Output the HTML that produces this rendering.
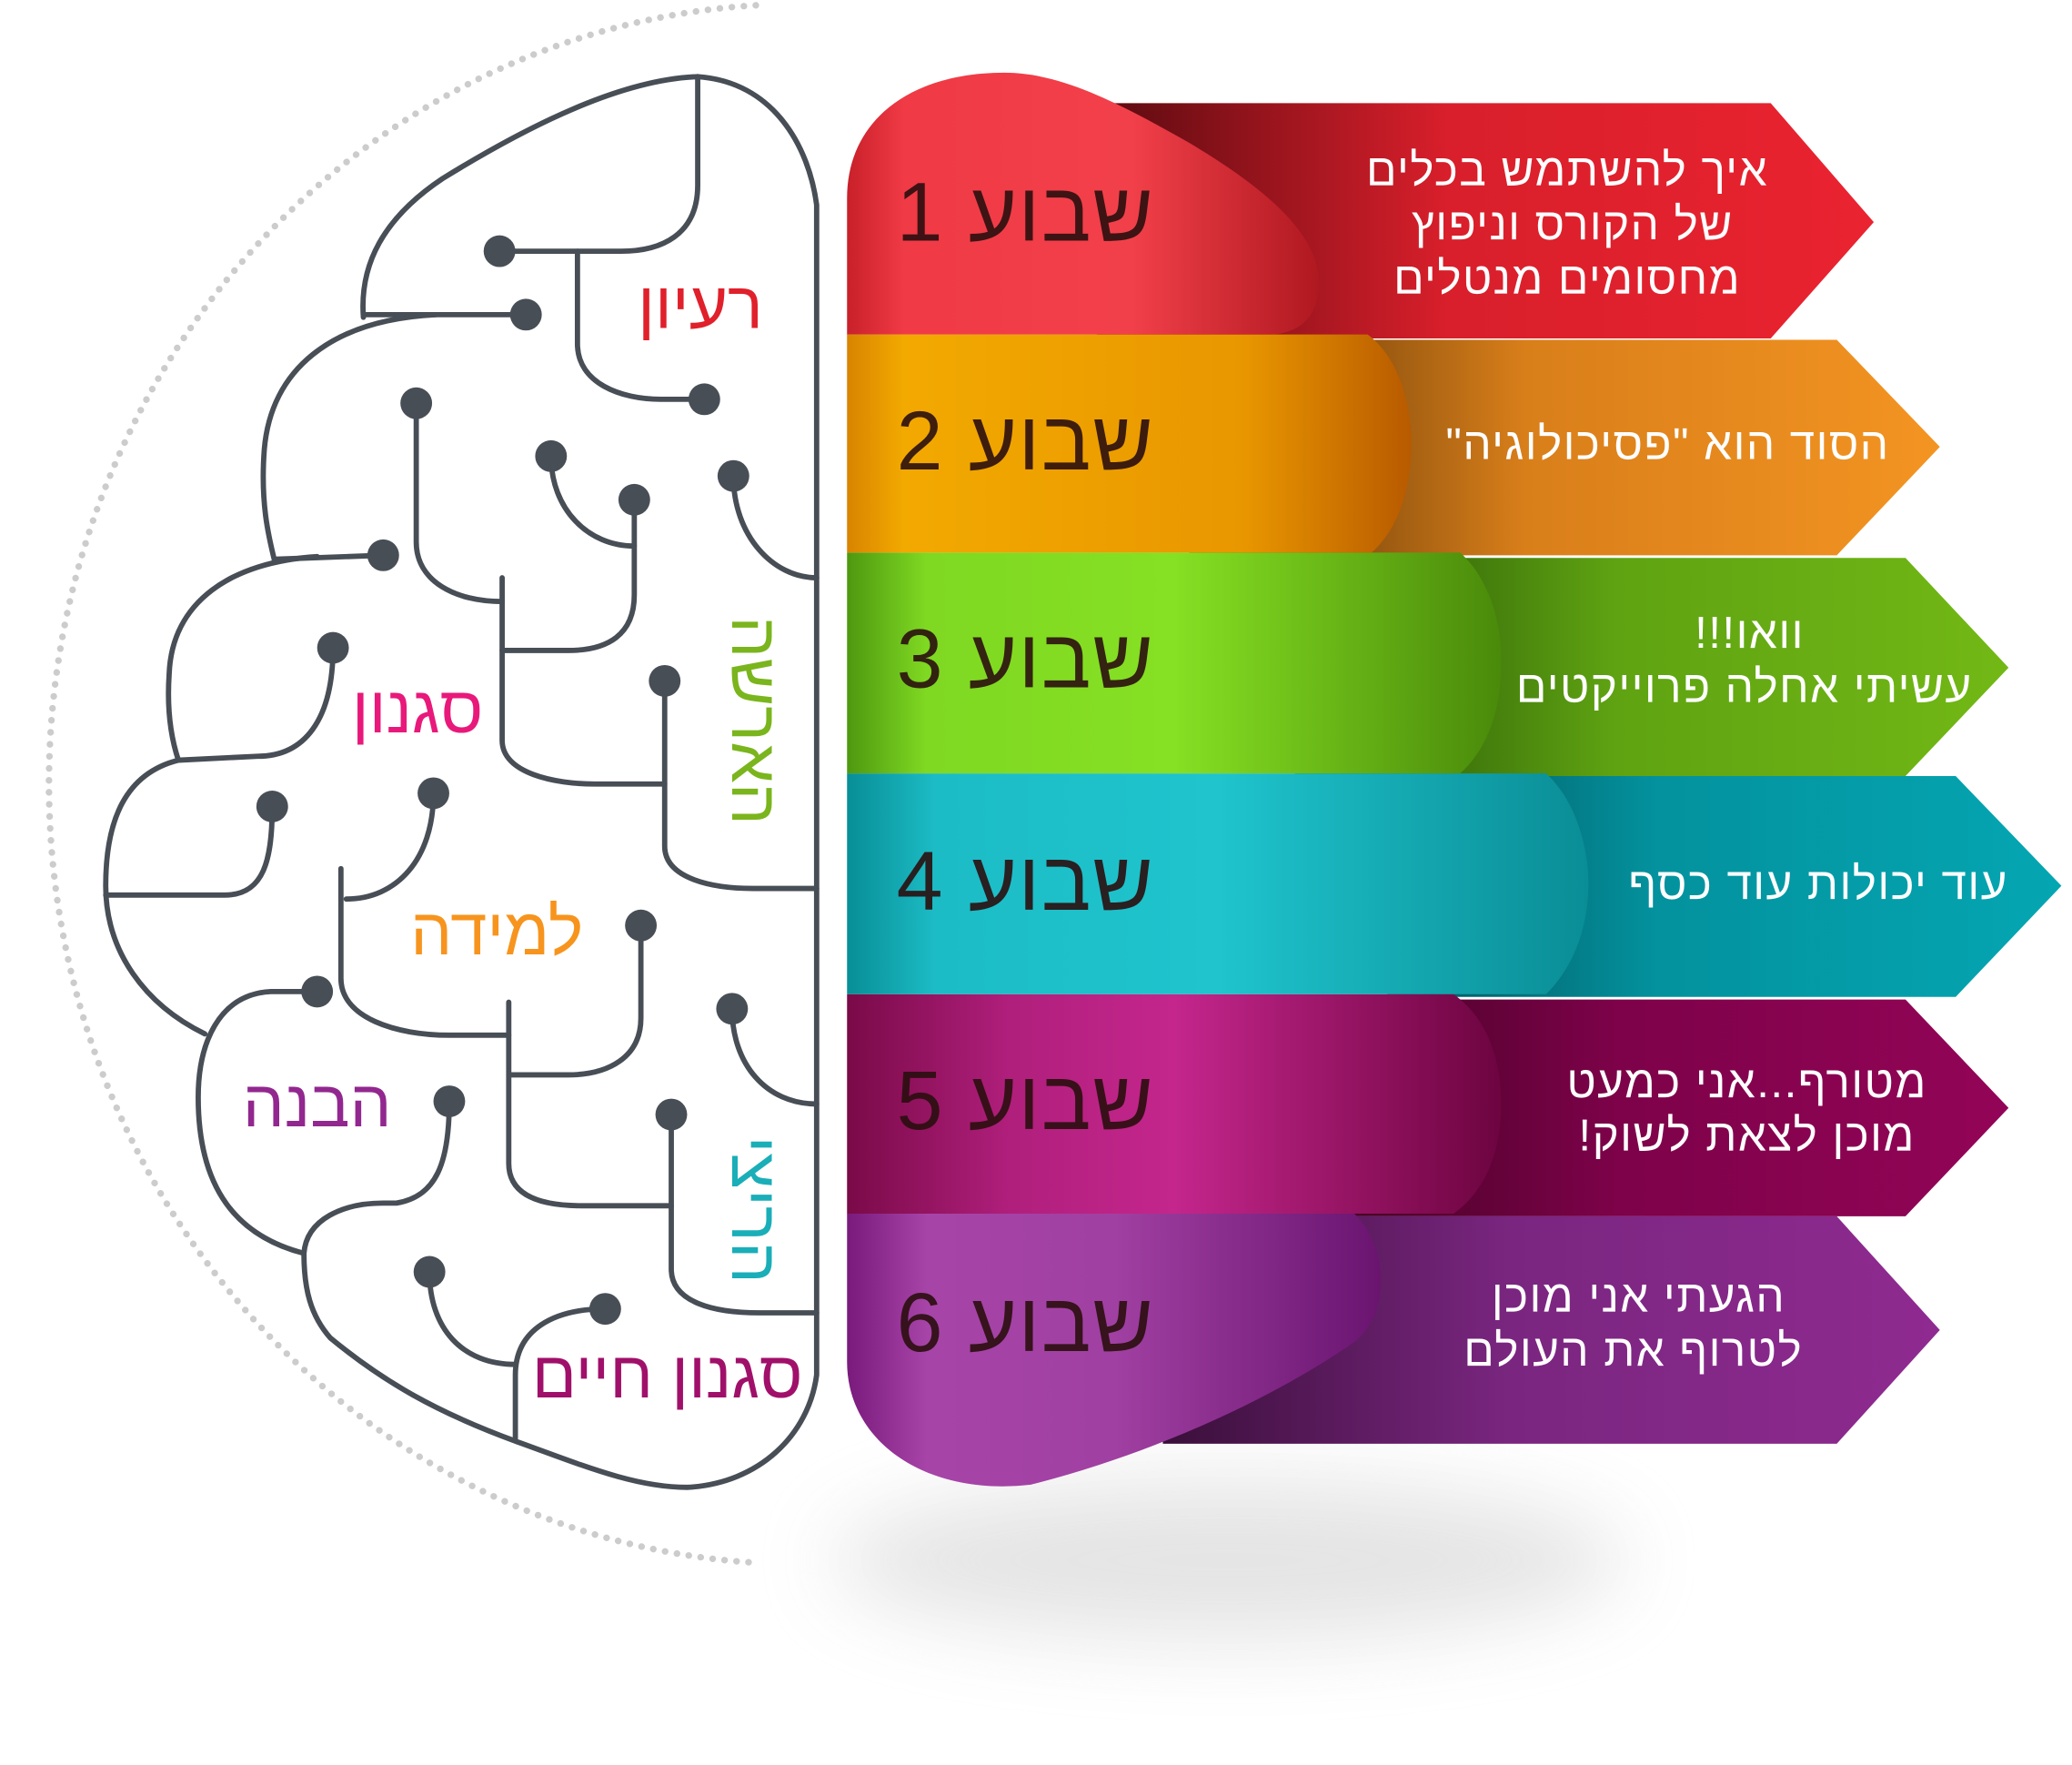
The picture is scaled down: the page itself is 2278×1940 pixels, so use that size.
<!DOCTYPE html>
<html><head><meta charset="utf-8">
<style>
html,body{margin:0;padding:0;background:#fff;}
svg{display:block;}
text{font-family:"Liberation Sans","Noto Sans CJK SC","DejaVu Sans",sans-serif;}
</style></head>
<body>
<svg width="2278" height="1940" viewBox="0 0 1568 1335" preserveAspectRatio="none" xmlns="http://www.w3.org/2000/svg">
<defs>
<filter id="blur" x="-50%" y="-50%" width="200%" height="200%"><feGaussianBlur stdDeviation="30"/></filter>
<linearGradient id="a1" x1="0" x2="1"><stop offset="0" stop-color="#5a0a10"/><stop offset="0.45" stop-color="#d81f2b"/><stop offset="1" stop-color="#ea2330"/></linearGradient>
<linearGradient id="a2" x1="0" x2="1"><stop offset="0" stop-color="#4a2a05"/><stop offset="0.45" stop-color="#d97f1a"/><stop offset="1" stop-color="#f39422"/></linearGradient>
<linearGradient id="a3" x1="0" x2="1"><stop offset="0" stop-color="#1f4a05"/><stop offset="0.45" stop-color="#5fa312"/><stop offset="1" stop-color="#72b815"/></linearGradient>
<linearGradient id="a4" x1="0" x2="1"><stop offset="0" stop-color="#04525a"/><stop offset="0.4" stop-color="#03929e"/><stop offset="1" stop-color="#04a6b2"/></linearGradient>
<linearGradient id="a5" x1="0" x2="1"><stop offset="0" stop-color="#3a0120"/><stop offset="0.45" stop-color="#7d0249"/><stop offset="1" stop-color="#930457"/></linearGradient>
<linearGradient id="a6" x1="0" x2="1"><stop offset="0" stop-color="#3a0f3a"/><stop offset="0.45" stop-color="#7a2680"/><stop offset="1" stop-color="#8f2a90"/></linearGradient>
<linearGradient id="b1" x1="0" x2="1"><stop offset="0" stop-color="#c8202a"/><stop offset="0.12" stop-color="#f03a45"/><stop offset="0.6" stop-color="#f2404a"/><stop offset="1" stop-color="#b01820"/></linearGradient>
<linearGradient id="b2" x1="0" x2="1"><stop offset="0" stop-color="#d88400"/><stop offset="0.1" stop-color="#f2a900"/><stop offset="0.7" stop-color="#e99700"/><stop offset="1" stop-color="#b85a00"/></linearGradient>
<linearGradient id="b3" x1="0" x2="1"><stop offset="0" stop-color="#4e9810"/><stop offset="0.12" stop-color="#7fd822"/><stop offset="0.5" stop-color="#86e023"/><stop offset="1" stop-color="#4a8a0a"/></linearGradient>
<linearGradient id="b4" x1="0" x2="1"><stop offset="0" stop-color="#088e96"/><stop offset="0.12" stop-color="#1cbcc6"/><stop offset="0.5" stop-color="#1fc4cd"/><stop offset="1" stop-color="#0a8d96"/></linearGradient>
<linearGradient id="b5" x1="0" x2="1"><stop offset="0" stop-color="#7a0a48"/><stop offset="0.25" stop-color="#b01f7c"/><stop offset="0.5" stop-color="#c4268c"/><stop offset="1" stop-color="#6d0440"/></linearGradient>
<linearGradient id="b6" x1="0" x2="1"><stop offset="0" stop-color="#7a1a7c"/><stop offset="0.15" stop-color="#a744a8"/><stop offset="0.5" stop-color="#a040a2"/><stop offset="1" stop-color="#6a1470"/></linearGradient>
</defs>

<path d="M572,4 A568,590 0 0 0 572,1182" fill="none" stroke="#cccccc" stroke-width="5" stroke-dasharray="0.1 9" stroke-linecap="round"/>

<ellipse cx="930" cy="1180" rx="300" ry="60" fill="#c4c4c4" opacity="0.45" filter="url(#blur)"/>

<polygon points="830,78 1340,78 1418,168 1340,256 830,256" fill="url(#a1)"/>
<polygon points="900,257 1390,257 1468,338 1390,420 900,420" fill="url(#a2)"/>
<polygon points="980,422 1442,422 1520,505 1442,587 980,587" fill="url(#a3)"/>
<polygon points="1050,587 1480,587 1560,670 1480,754 1050,754" fill="url(#a4)"/>
<polygon points="980,756 1442,756 1520,838 1442,920 980,920" fill="url(#a5)"/>
<polygon points="880,920 1390,920 1468,1006 1390,1092 880,1092" fill="url(#a6)"/>

<path d="M641,918 L1025,918 C1048,940 1055,990 1025,1015 C960,1060 870,1100 780,1123 C700,1132 641,1090 641,1030 Z" fill="url(#b6)"/>
<path d="M641,752 L1100,752 C1125,770 1136,800 1136,835 C1136,870 1125,900 1100,918 L641,918 Z" fill="url(#b5)"/>
<path d="M641,585 L1170,585 C1192,605 1202,640 1202,668 C1202,700 1192,730 1170,752 L641,752 Z" fill="url(#b4)"/>
<path d="M641,418 L1105,418 C1127,438 1136,470 1136,500 C1136,535 1127,565 1105,585 L641,585 Z" fill="url(#b3)"/>
<path d="M641,253 L1035,253 C1058,270 1068,305 1068,335 C1068,370 1058,400 1038,418 L641,418 Z" fill="url(#b2)"/>
<path d="M641,253 L641,150 C641,90 690,55 760,55 C805,55 850,80 900,108 C950,138 995,172 998,210 C1000,237 985,253 960,253 Z" fill="url(#b1)"/>

<g font-size="63" fill="#2a0e0e" fill-opacity="0.9" text-anchor="middle" direction="rtl" letter-spacing="1">
<text x="776" y="182">שבוע 1</text>
<text x="776" y="355">שבוע 2</text>
<text x="776" y="520">שבוע 3</text>
<text x="776" y="688">שבוע 4</text>
<text x="776" y="854">שבוע 5</text>
<text x="776" y="1022">שבוע 6</text>
</g>

<g font-size="34" fill="#ffffff" text-anchor="middle" direction="rtl" letter-spacing="1">
<text x="1186" y="140">איך להשתמש בכלים</text>
<text x="1190" y="181">של הקורס וניפוץ</text>
<text x="1186" y="222">מחסומים מנטלים</text>
<text x="1262" y="347">הסוד הוא "פסיכולוגיה"</text>
<text x="1324" y="490">וואו!!!</text>
<text x="1320" y="531">עשיתי אחלה פרוייקטים</text>
<text x="1376" y="680">עוד יכולות עוד כסף</text>
<text x="1322" y="830">מטורף...אני  כמעט</text>
<text x="1322" y="870">מוכן לצאת לשוק!</text>
<text x="1240" y="992">הגעתי אני מוכן</text>
<text x="1236" y="1033">לטרוף את העולם</text>
</g>

<g fill="none" stroke="#484e56" stroke-width="4" stroke-linecap="round">
<path d="M528,58 C585,62 612,110 618,155 L618,1040 C612,1085 575,1122 520,1125 C480,1125 440,1108 390,1090 C330,1068 290,1045 250,1012 C235,995 230,975 230,948"/>
<path d="M528,58 C470,60 400,95 335,135 C290,165 272,200 275,240"/>
<path d="M275,238 L398,238"/>
<path d="M330,238 C250,242 205,280 200,340 C197,380 203,405 208,425"/>
<path d="M208,423 L290,420"/>
<path d="M240,421 C175,425 130,455 128,510 C126,540 130,560 135,575"/>
<path d="M252,490 C252,545 230,572 195,572 L135,575"/>
<path d="M135,575 C95,585 80,620 80,670 C80,720 110,760 155,782"/>
<path d="M80,677 L170,677 C200,677 206,650 206,610"/>
<path d="M240,750 L205,750 C165,752 150,790 150,830 C150,900 180,935 230,948"/>
<path d="M230,948 C232,922 260,910 290,910 L300,910 C330,905 340,880 340,833"/>
<path d="M528,58 L528,140 C528,178 500,190 470,190 L378,190"/>
<path d="M437,190 L437,260 C437,290 470,302 500,302 L533,302"/>
<path d="M315,305 L315,410 C315,440 345,455 380,455"/>
<path d="M380,437 L380,560 C380,585 420,593 450,593 L503,593"/>
<path d="M503,515 L503,640 C503,665 540,672 570,672 L618,672"/>
<path d="M417,345 C417,385 445,413 480,413"/>
<path d="M480,378 L480,450 C480,480 460,492 430,492 L380,492"/>
<path d="M555,360 C555,405 585,437 618,437"/>
<path d="M328,600 C328,650 300,680 262,680"/>
<path d="M258,657 L258,740 C258,770 300,783 340,783 L385,783"/>
<path d="M385,758 L385,880 C385,905 410,912 440,912 L508,912"/>
<path d="M485,700 L485,770 C485,800 460,813 430,813 L385,813"/>
<path d="M508,843 L508,960 C508,985 540,993 575,993 L618,993"/>
<path d="M554,763 C554,805 580,835 618,835"/>
<path d="M325,962 C325,1005 350,1032 390,1032"/>
<path d="M390,1088 L390,1040 C390,1005 420,990 458,990"/>
</g>
<g fill="#484e56">
<circle cx="378" cy="190" r="12"/><circle cx="398" cy="238" r="12"/><circle cx="533" cy="302" r="12"/>
<circle cx="315" cy="305" r="12"/><circle cx="417" cy="345" r="12"/><circle cx="480" cy="378" r="12"/>
<circle cx="555" cy="360" r="12"/><circle cx="290" cy="420" r="12"/><circle cx="252" cy="490" r="12"/>
<circle cx="503" cy="515" r="12"/><circle cx="206" cy="610" r="12"/><circle cx="328" cy="600" r="12"/>
<circle cx="485" cy="700" r="12"/><circle cx="240" cy="750" r="12"/><circle cx="554" cy="763" r="12"/>
<circle cx="340" cy="833" r="12"/><circle cx="508" cy="843" r="12"/><circle cx="325" cy="962" r="12"/>
<circle cx="458" cy="990" r="12"/>
</g>

<g font-size="50" text-anchor="middle" direction="rtl">
<text x="530" y="248" fill="#e0202b">רעיון</text>
<text x="316" y="554" fill="#e8197a">סגנון</text>
<text x="376" y="722" fill="#f7941d">למידה</text>
<text x="240" y="852" fill="#92278f">הבנה</text>
<text x="505" y="1057" fill="#a0106a">סגנון חיים</text>
</g>
<g font-size="50" text-anchor="middle">
<text transform="translate(554,545) rotate(90)" fill="#7ab51d" direction="ltr" unicode-bidi="bidi-override">השראה</text>
<text transform="translate(554,915) rotate(90)" fill="#1aaeb8" direction="ltr" unicode-bidi="bidi-override">יצירה</text>
</g>
</svg>
</body></html>
